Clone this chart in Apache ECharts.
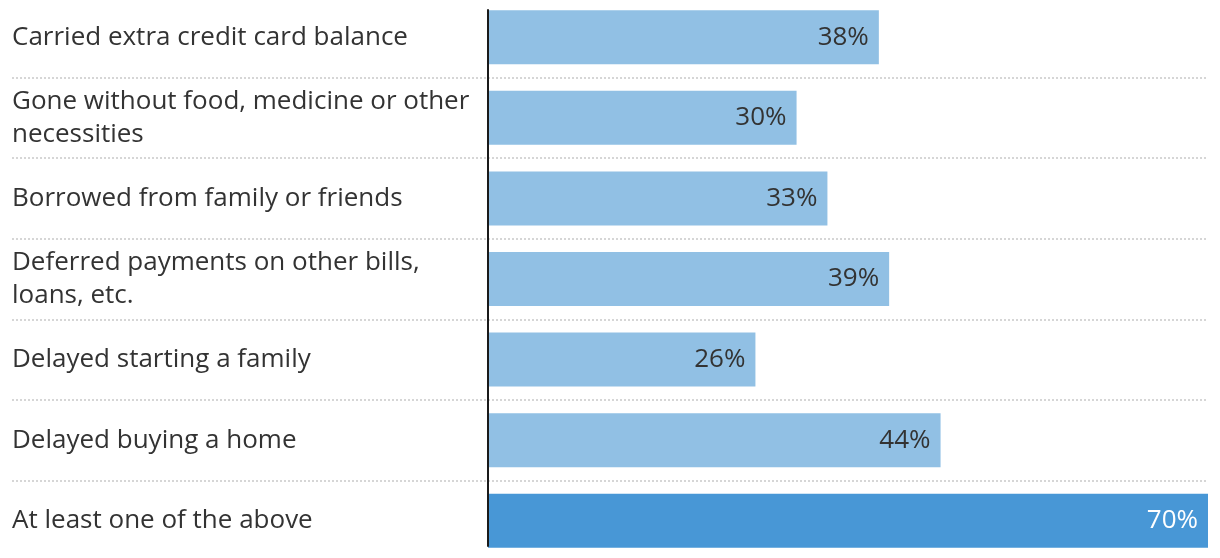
<!DOCTYPE html>
<html>
<head>
<meta charset="utf-8">
<script src="https://cdn.jsdelivr.net/npm/echarts@6/dist/echarts.min.js"></script>
<style>
html,body{margin:0;padding:0;background:#fff;}
#chart{width:1220px;height:558px;}
</style>
</head>
<body>
<div id="chart"></div>
<script>
const categories = [
  "Carried extra credit card balance",
  "Gone without food, medicine or other necessities",
  "Borrowed from family or friends",
  "Deferred payments on other bills, loans, etc.",
  "Delayed starting a family",
  "Delayed buying a home",
  "At least one of the above"
];
const values = [38, 30, 33, 39, 26, 44, 70];
const highlightIndex = 6;

const FONT = "'Open Sans'";
const LIGHT = "#91c0e4";
const DARK = "#4897d6";

const chart = echarts.init(document.getElementById('chart'), null, {renderer: 'canvas'});

const barData = values.map((v, i) => ({
  value: v,
  itemStyle: {color: i === highlightIndex ? DARK : LIGHT},
  label: {color: i === highlightIndex ? '#ffffff' : '#333333'}
}));

const option = {
  animation: false,
  grid: [
    {left: 12, right: 12, top: -3, bottom: -3, outerBoundsMode: 'none', containLabel: false},
    {left: 488, right: 12, top: -3, bottom: -3, outerBoundsMode: 'none', containLabel: false},
    {left: 488, right: 12, top: 10, bottom: 12, outerBoundsMode: 'none', containLabel: false}
  ],
  xAxis: [
    {gridIndex: 0, type: 'value', min: 0, max: 1, show: false},
    {gridIndex: 1, type: 'value', min: 0, max: 70, show: false},
    {gridIndex: 2, type: 'value', min: 0, max: 1, show: false}
  ],
  yAxis: [
    {
      gridIndex: 0, type: 'category', data: categories, inverse: true,
      axisLine: {show: false}, axisTick: {show: false},
      axisLabel: {
        inside: true, margin: 0, interval: 0, align: 'left',
        color: '#333333', fontFamily: FONT, fontSize: 26, lineHeight: 33,
        width: 470, overflow: 'break'
      },
      splitLine: {show: true, interval: 0, lineStyle: {color: '#d6d6d6', width: 2, type: [2, 2]}}
    },
    {
      gridIndex: 1, type: 'category', data: categories, inverse: true,
      axisLine: {show: false}, axisTick: {show: false}, axisLabel: {show: false},
      splitLine: {show: false}
    },
    {
      gridIndex: 2, type: 'category', data: categories, inverse: true, z: 10,
      axisLine: {show: true, onZero: false, lineStyle: {color: '#1a1a1a', width: 2}},
      axisTick: {show: false}, axisLabel: {show: false}, splitLine: {show: false}
    }
  ],
  series: [{
    type: 'bar',
    xAxisIndex: 1, yAxisIndex: 1,
    data: barData,
    barWidth: 54,
    z: 1,
    label: {
      show: true, position: 'insideRight', distance: 10,
      formatter: '{c}%', fontFamily: FONT, fontSize: 26
    }
  }]
};
chart.setOption(option);
</script>
</body>
</html>
